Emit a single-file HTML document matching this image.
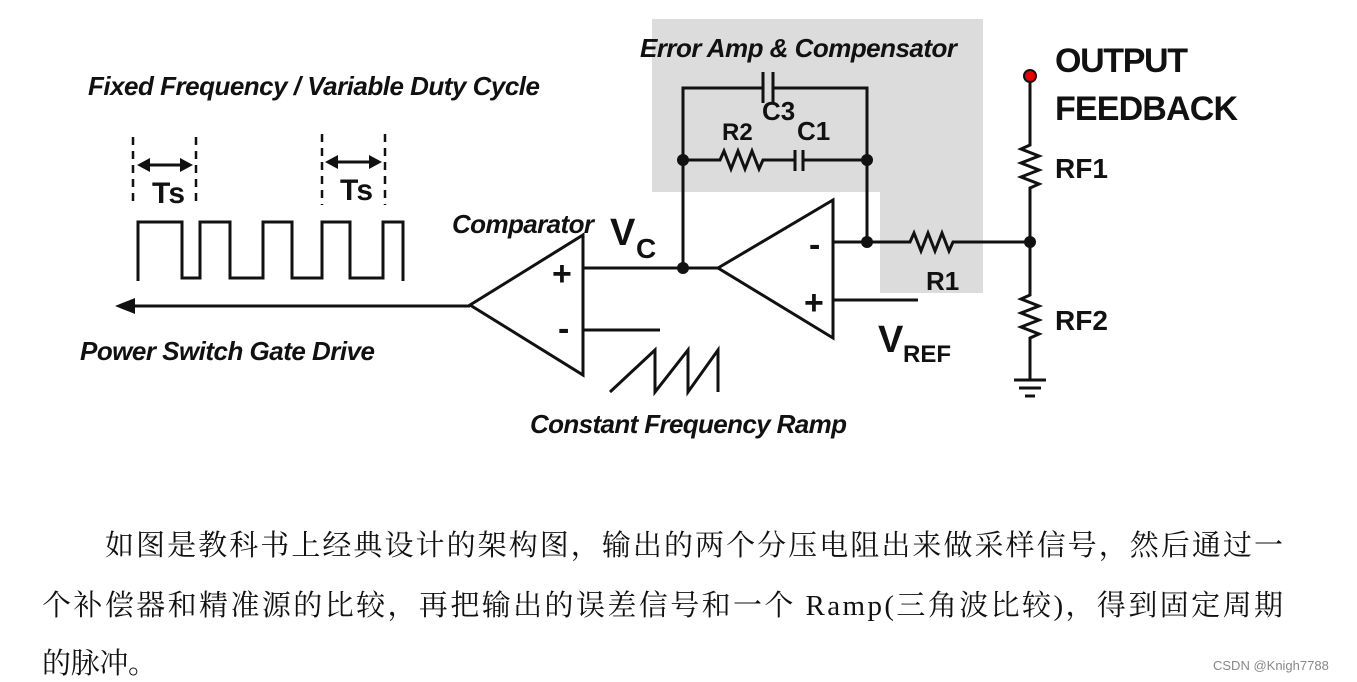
<!DOCTYPE html>
<html><head><meta charset="utf-8"><style>
html,body{margin:0;padding:0;background:#fff;}
svg{display:block}
.l{font-family:"Liberation Sans",Arial,sans-serif;font-weight:bold;font-style:italic;fill:#111}
.n{font-family:"Liberation Sans",Arial,sans-serif;font-weight:bold;fill:#111}
.c{font-family:"Liberation Serif","Noto Serif CJK SC",serif;font-size:29px;fill:#111}
</style></head><body>
<svg width="1357" height="682" viewBox="0 0 1357 682" xmlns="http://www.w3.org/2000/svg">
<g fill="#dcdcdc"><rect x="652" y="19" width="331" height="173"/><rect x="880" y="190" width="103" height="103"/></g>
<g stroke="#111" stroke-width="3" fill="none" stroke-linejoin="miter">
<polyline points="138,281 138,222 182,222 182,278 200,278 200,222 230,222 230,278 263,278 263,222 292,222 292,278 322,278 322,222 350,222 350,278 383,278 383,222 403,222 403,281"/>
<g stroke-dasharray="8,6" stroke-width="2.5"><line x1="133" y1="137" x2="133" y2="207"/><line x1="196" y1="137" x2="196" y2="207"/><line x1="322" y1="134" x2="322" y2="205"/><line x1="385" y1="134" x2="385" y2="205"/></g>
<line x1="145" y1="165" x2="185" y2="165"/><line x1="333" y1="162" x2="374" y2="162"/>
<line x1="125" y1="306" x2="470" y2="306"/>
<polygon points="470,305 583,235 583,375"/>
<line x1="583" y1="268" x2="718" y2="268"/>
<line x1="583" y1="330" x2="660" y2="330"/>
<polyline points="610,392 655,350 655,392 688,350 688,392 718,350 718,392"/>
<polygon points="718,268 833,200 833,338"/>
<polyline points="683,268 683,88 763,88"/><line x1="763" y1="72" x2="763" y2="103"/><line x1="773" y1="72" x2="773" y2="103"/>
<polyline points="773,88 867,88 867,242"/>
<polyline points="683,160 720,160 724,151 731,169 738,151 745,169 752,151 759,169 763,160 795,160"/><line x1="795" y1="150" x2="795" y2="171"/><line x1="803" y1="150" x2="803" y2="171"/><line x1="803" y1="160" x2="867" y2="160"/>
<polyline points="833,242 910,242 914,233 921,251 928,233 935,251 942,233 949,251 953,242 1030,242"/>
<line x1="833" y1="300" x2="918" y2="300"/>
<polyline points="1030,78 1030,145 1021,149 1039,156 1021,163 1039,170 1021,177 1039,184 1030,188 1030,295 1021,299 1039,306 1021,313 1039,320 1021,327 1039,334 1030,338 1030,380"/>
<line x1="1014" y1="380" x2="1046" y2="380"/><line x1="1019" y1="388" x2="1041" y2="388"/><line x1="1025" y1="396" x2="1035" y2="396"/>
</g>
<g fill="#111">
<polygon points="115,306 135,298 135,314"/>
<polygon points="137,165 150,158 150,172"/><polygon points="193,165 180,158 180,172"/>
<polygon points="325,162 338,155 338,169"/><polygon points="382,162 369,155 369,169"/>
<circle cx="683" cy="268" r="6"/><circle cx="683" cy="160" r="6"/><circle cx="867" cy="160" r="6"/><circle cx="867" cy="242" r="6"/><circle cx="1030" cy="242" r="6"/>
</g>
<circle cx="1030" cy="76" r="6" fill="#e00" stroke="#111" stroke-width="2"/>
<text class="l" x="88" y="95" font-size="26" textLength="452">Fixed Frequency / Variable Duty Cycle</text>
<text class="n" x="152" y="203" font-size="30" textLength="33">Ts</text>
<text class="n" x="340" y="200" font-size="30" textLength="33">Ts</text>
<text class="l" x="452" y="233" font-size="26" textLength="142">Comparator</text>
<text class="l" x="80" y="360" font-size="26" textLength="295">Power Switch Gate Drive</text>
<text class="l" x="530" y="433" font-size="26" textLength="317">Constant Frequency Ramp</text>
<text class="l" x="640" y="57" font-size="26" textLength="317">Error Amp &amp; Compensator</text>
<text class="n" x="552" y="285" font-size="34">+</text><text class="n" x="558" y="340" font-size="34">-</text>
<text class="n" x="804" y="314" font-size="34">+</text><text class="n" x="809" y="256" font-size="34">-</text>
<text class="n" x="610" y="245" font-size="38">V</text><text class="n" x="636" y="258" font-size="28">C</text>
<text class="n" x="878" y="352" font-size="38">V</text><text class="n" x="903" y="362" font-size="24">REF</text>
<text class="n" x="762" y="120" font-size="26">C3</text>
<text class="n" x="722" y="140" font-size="24">R2</text>
<text class="n" x="797" y="140" font-size="26">C1</text>
<text class="n" x="926" y="290" font-size="26">R1</text>
<text class="n" x="1055" y="72" font-size="34" textLength="133">OUTPUT</text>
<text class="n" x="1055" y="120" font-size="34" textLength="183">FEEDBACK</text>
<text class="n" x="1055" y="178" font-size="28">RF1</text>
<text class="n" x="1055" y="330" font-size="28">RF2</text>
<text class="c" x="105" y="555" textLength="1178" lengthAdjust="spacing">如图是教科书上经典设计的架构图，输出的两个分压电阻出来做采样信号，然后通过一</text>
<text class="c" x="42" y="615" textLength="1241" lengthAdjust="spacing">个补偿器和精准源的比较，再把输出的误差信号和一个  Ramp(三角波比较)，得到固定周期</text>
<text class="c" x="42" y="673" textLength="115" lengthAdjust="spacing">的脉冲。</text>
<text x="1213" y="670" font-family="Liberation Sans,sans-serif" font-size="13" fill="#888">CSDN @Knigh7788</text>
</svg>
</body></html>
